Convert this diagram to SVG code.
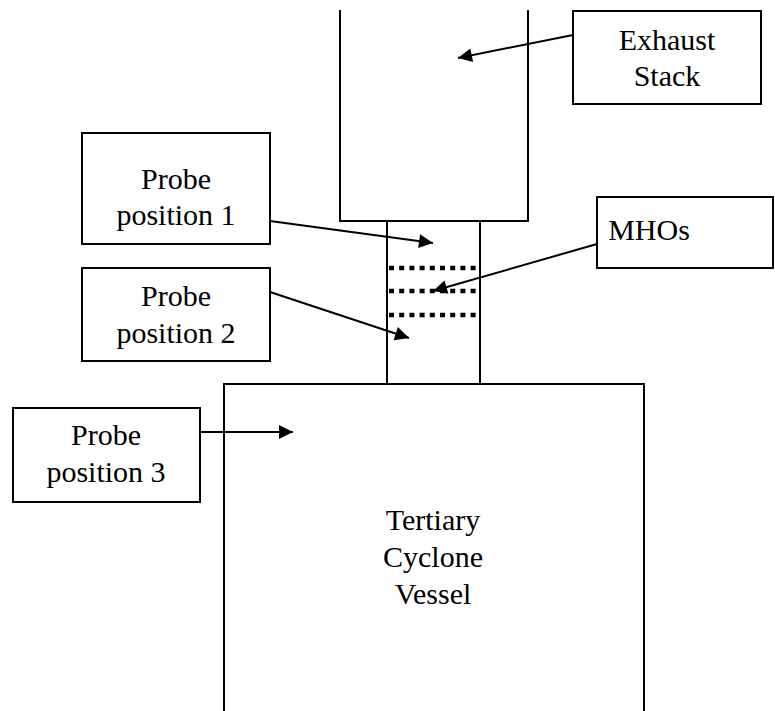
<svg xmlns="http://www.w3.org/2000/svg" width="775" height="711" viewBox="0 0 775 711">
<defs>
<style>
.ln{fill:none;stroke:#000;stroke-width:2}
.box{fill:#fff;stroke:#000;stroke-width:2}
.dot{fill:none;stroke:#000;stroke-width:4.5;stroke-dasharray:5 5.2}
.ar{fill:none;stroke:#000;stroke-width:2}
.t{font-family:'Liberation Serif','DejaVu Serif',serif;font-size:30px;fill:#000;text-anchor:middle}
</style>
<marker id="ah" viewBox="0 0 10 10" refX="10" refY="5" markerWidth="8.5" markerHeight="7" markerUnits="strokeWidth" orient="auto">
<path d="M0,0 L10,5 L0,10 z" fill="#000"/>
</marker>
</defs>
<rect width="775" height="711" fill="#fff"/>
<g id="stack">
<path class="ln" d="M340,10 V221 H528 V10"/>
</g>
<g id="pipe">
<path class="ln" d="M387,221 V384 M480,221 V384"/>
<line class="dot" x1="389" y1="268" x2="477" y2="268"/>
<line class="dot" x1="389" y1="291" x2="477" y2="291"/>
<line class="dot" x1="389" y1="315" x2="477" y2="315"/>
</g>
<g id="vessel">
<path class="ln" d="M224,711 V384 H644 V711"/>
<text class="t" x="433" y="530">Tertiary</text>
<text class="t" x="433" y="567">Cyclone</text>
<text class="t" x="433" y="604">Vessel</text>
</g>
<g id="connectors">
<line class="ar" x1="573" y1="35" x2="458" y2="58" marker-end="url(#ah)"/>
<line class="ar" x1="597" y1="244" x2="433" y2="291" marker-end="url(#ah)"/>
<line class="ar" x1="270" y1="221" x2="433" y2="243" marker-end="url(#ah)"/>
<line class="ar" x1="270" y1="292" x2="409" y2="338" marker-end="url(#ah)"/>
<line class="ar" x1="200" y1="432" x2="293" y2="432" marker-end="url(#ah)"/>
</g>
<g id="exhaust-label">
<rect class="box" x="573" y="11" width="188" height="93"/>
<text class="t" x="667" y="50">Exhaust</text>
<text class="t" x="667" y="86">Stack</text>
</g>
<g id="mhos-label">
<rect class="box" x="597" y="197" width="176" height="71"/>
<text class="t" x="649" y="240">MHOs</text>
</g>
<g id="probe1">
<rect class="box" x="82" y="133" width="188" height="111"/>
<text class="t" x="176" y="189">Probe</text>
<text class="t" x="176" y="225">position 1</text>
</g>
<g id="probe2">
<rect class="box" x="82" y="268" width="188" height="93"/>
<text class="t" x="176" y="306">Probe</text>
<text class="t" x="176" y="343">position 2</text>
</g>
<g id="probe3">
<rect class="box" x="13" y="408" width="187" height="94"/>
<text class="t" x="106" y="445">Probe</text>
<text class="t" x="106" y="482">position 3</text>
</g>
</svg>
